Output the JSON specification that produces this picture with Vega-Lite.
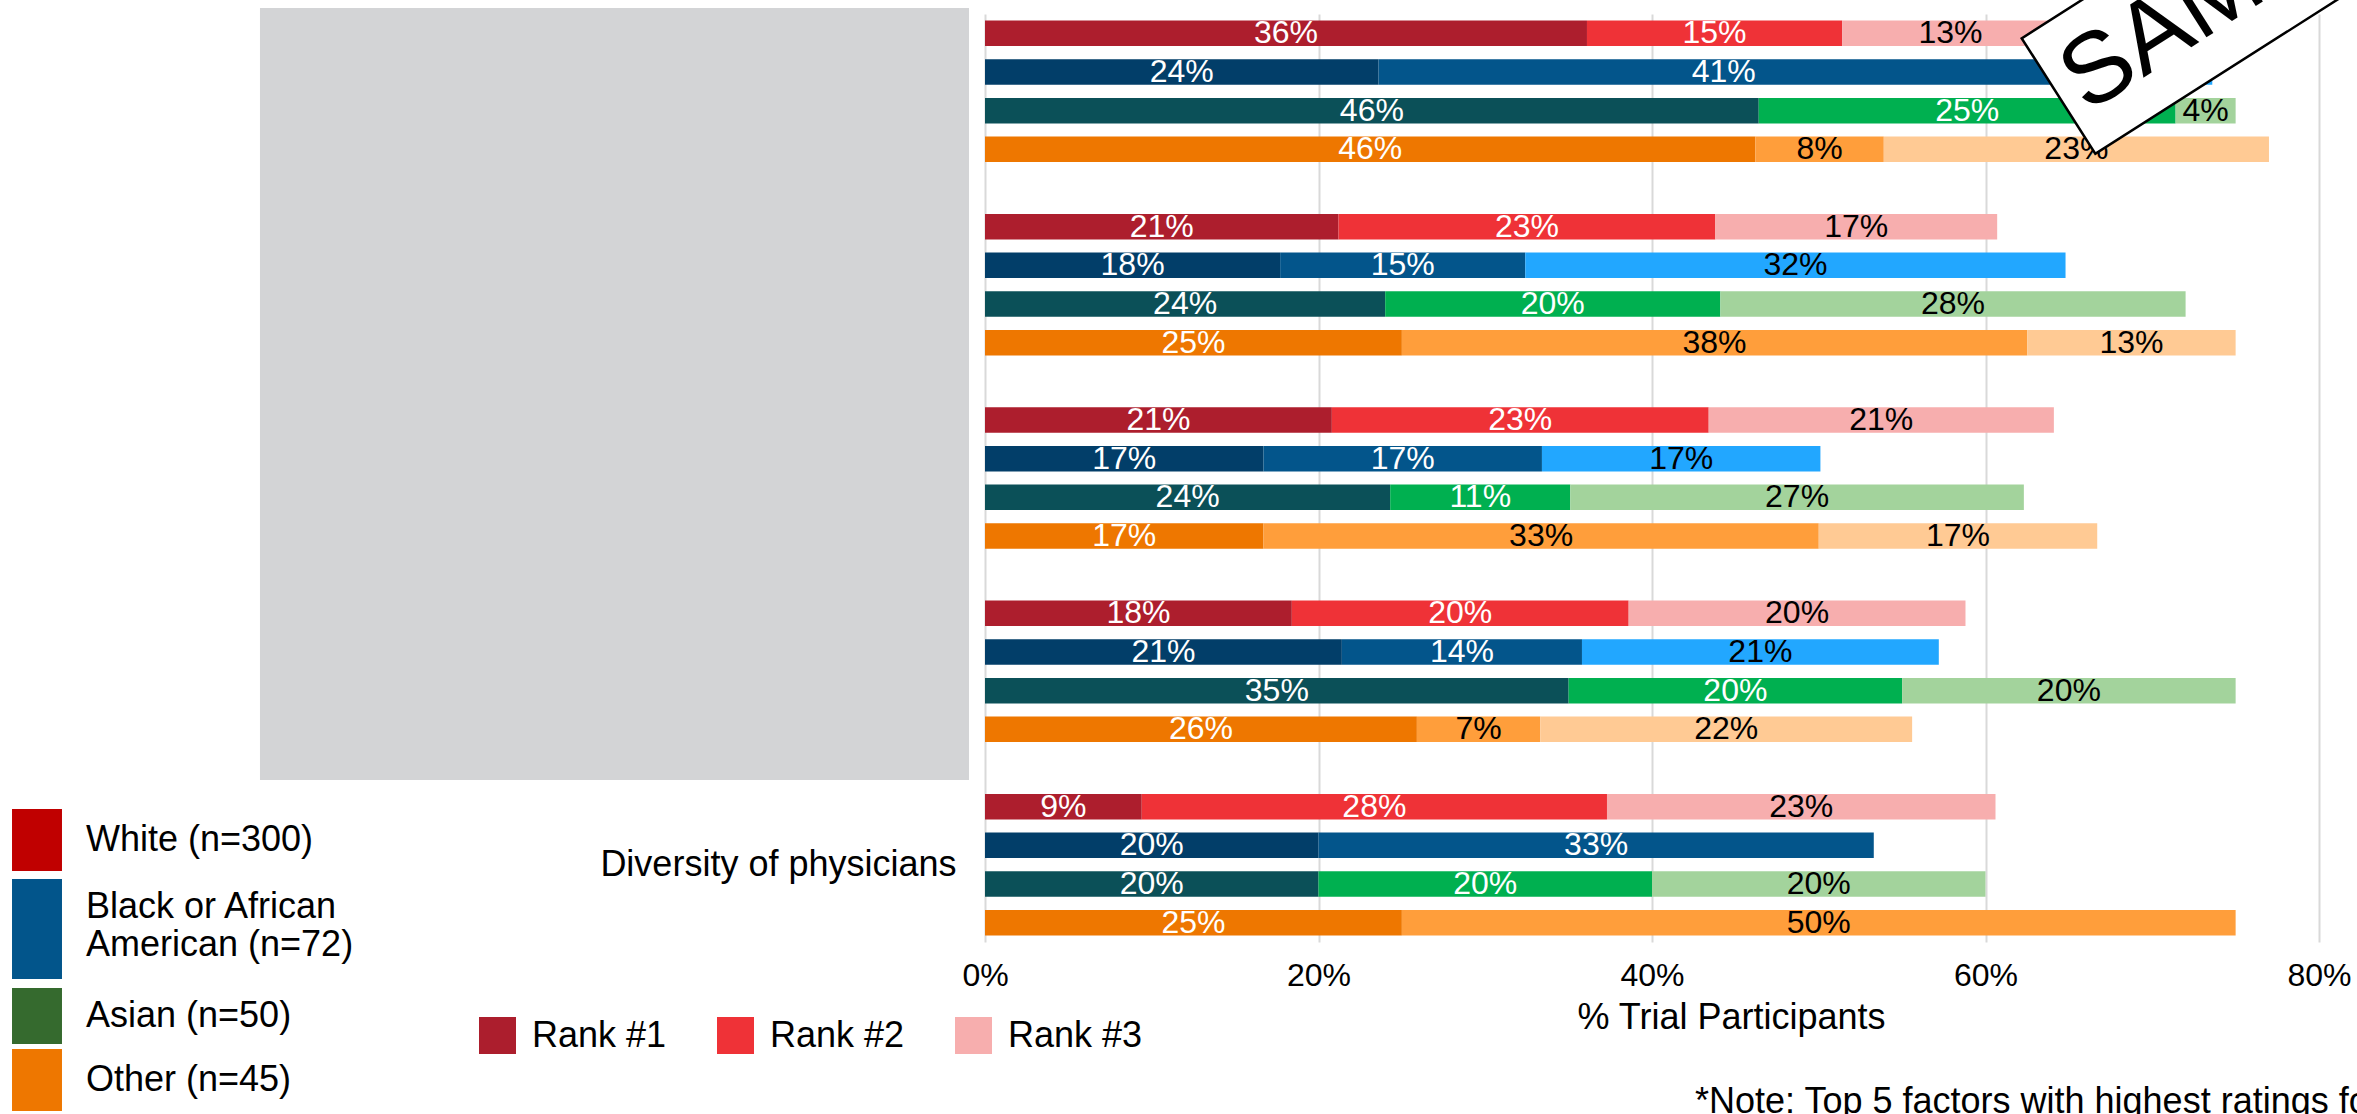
{
  "$schema": "https://vega.github.io/schema/vega-lite/v6.json",
  "autosize": {"type": "none"},
  "padding": {"left": 985, "top": 14, "right": 38, "bottom": 172},
  "width": 1334,
  "height": 928,
  "background": "white",
  "config": {"font": "Liberation Sans", "view": {"stroke": null}},
  "layer": [
    {
      "data": {"values": [
        {"factor": "Factor 1", "race": "White (n=300)", "rank": "Rank #1", "pct": 36.1},
        {"factor": "Factor 1", "race": "White (n=300)", "rank": "Rank #2", "pct": 15.3},
        {"factor": "Factor 1", "race": "White (n=300)", "rank": "Rank #3", "pct": 13},
        {"factor": "Factor 1", "race": "Black or African American (n=72)", "rank": "Rank #1", "pct": 23.6},
        {"factor": "Factor 1", "race": "Black or African American (n=72)", "rank": "Rank #2", "pct": 41.4},
        {"factor": "Factor 1", "race": "Black or African American (n=72)", "rank": "Rank #3", "pct": 8.6},
        {"factor": "Factor 1", "race": "Asian (n=50)", "rank": "Rank #1", "pct": 46.4},
        {"factor": "Factor 1", "race": "Asian (n=50)", "rank": "Rank #2", "pct": 25.0},
        {"factor": "Factor 1", "race": "Asian (n=50)", "rank": "Rank #3", "pct": 3.6},
        {"factor": "Factor 1", "race": "Other (n=45)", "rank": "Rank #1", "pct": 46.2},
        {"factor": "Factor 1", "race": "Other (n=45)", "rank": "Rank #2", "pct": 7.7},
        {"factor": "Factor 1", "race": "Other (n=45)", "rank": "Rank #3", "pct": 23.1},
        {"factor": "Factor 2", "race": "White (n=300)", "rank": "Rank #1", "pct": 21.2},
        {"factor": "Factor 2", "race": "White (n=300)", "rank": "Rank #2", "pct": 22.6},
        {"factor": "Factor 2", "race": "White (n=300)", "rank": "Rank #3", "pct": 16.9},
        {"factor": "Factor 2", "race": "Black or African American (n=72)", "rank": "Rank #1", "pct": 17.7},
        {"factor": "Factor 2", "race": "Black or African American (n=72)", "rank": "Rank #2", "pct": 14.7},
        {"factor": "Factor 2", "race": "Black or African American (n=72)", "rank": "Rank #3", "pct": 32.4},
        {"factor": "Factor 2", "race": "Asian (n=50)", "rank": "Rank #1", "pct": 24.0},
        {"factor": "Factor 2", "race": "Asian (n=50)", "rank": "Rank #2", "pct": 20.1},
        {"factor": "Factor 2", "race": "Asian (n=50)", "rank": "Rank #3", "pct": 27.9},
        {"factor": "Factor 2", "race": "Other (n=45)", "rank": "Rank #1", "pct": 25.0},
        {"factor": "Factor 2", "race": "Other (n=45)", "rank": "Rank #2", "pct": 37.5},
        {"factor": "Factor 2", "race": "Other (n=45)", "rank": "Rank #3", "pct": 12.5},
        {"factor": "Factor 3", "race": "White (n=300)", "rank": "Rank #1", "pct": 20.8},
        {"factor": "Factor 3", "race": "White (n=300)", "rank": "Rank #2", "pct": 22.6},
        {"factor": "Factor 3", "race": "White (n=300)", "rank": "Rank #3", "pct": 20.7},
        {"factor": "Factor 3", "race": "Black or African American (n=72)", "rank": "Rank #1", "pct": 16.7},
        {"factor": "Factor 3", "race": "Black or African American (n=72)", "rank": "Rank #2", "pct": 16.7},
        {"factor": "Factor 3", "race": "Black or African American (n=72)", "rank": "Rank #3", "pct": 16.7},
        {"factor": "Factor 3", "race": "Asian (n=50)", "rank": "Rank #1", "pct": 24.3},
        {"factor": "Factor 3", "race": "Asian (n=50)", "rank": "Rank #2", "pct": 10.8},
        {"factor": "Factor 3", "race": "Asian (n=50)", "rank": "Rank #3", "pct": 27.2},
        {"factor": "Factor 3", "race": "Other (n=45)", "rank": "Rank #1", "pct": 16.7},
        {"factor": "Factor 3", "race": "Other (n=45)", "rank": "Rank #2", "pct": 33.3},
        {"factor": "Factor 3", "race": "Other (n=45)", "rank": "Rank #3", "pct": 16.7},
        {"factor": "Factor 4", "race": "White (n=300)", "rank": "Rank #1", "pct": 18.4},
        {"factor": "Factor 4", "race": "White (n=300)", "rank": "Rank #2", "pct": 20.2},
        {"factor": "Factor 4", "race": "White (n=300)", "rank": "Rank #3", "pct": 20.2},
        {"factor": "Factor 4", "race": "Black or African American (n=72)", "rank": "Rank #1", "pct": 21.4},
        {"factor": "Factor 4", "race": "Black or African American (n=72)", "rank": "Rank #2", "pct": 14.4},
        {"factor": "Factor 4", "race": "Black or African American (n=72)", "rank": "Rank #3", "pct": 21.4},
        {"factor": "Factor 4", "race": "Asian (n=50)", "rank": "Rank #1", "pct": 35.0},
        {"factor": "Factor 4", "race": "Asian (n=50)", "rank": "Rank #2", "pct": 20.0},
        {"factor": "Factor 4", "race": "Asian (n=50)", "rank": "Rank #3", "pct": 20.0},
        {"factor": "Factor 4", "race": "Other (n=45)", "rank": "Rank #1", "pct": 25.9},
        {"factor": "Factor 4", "race": "Other (n=45)", "rank": "Rank #2", "pct": 7.4},
        {"factor": "Factor 4", "race": "Other (n=45)", "rank": "Rank #3", "pct": 22.3},
        {"factor": "Diversity of physicians", "race": "White (n=300)", "rank": "Rank #1", "pct": 9.4},
        {"factor": "Diversity of physicians", "race": "White (n=300)", "rank": "Rank #2", "pct": 27.9},
        {"factor": "Diversity of physicians", "race": "White (n=300)", "rank": "Rank #3", "pct": 23.3},
        {"factor": "Diversity of physicians", "race": "Black or African American (n=72)", "rank": "Rank #1", "pct": 20.0},
        {"factor": "Diversity of physicians", "race": "Black or African American (n=72)", "rank": "Rank #2", "pct": 33.3},
        {"factor": "Diversity of physicians", "race": "Asian (n=50)", "rank": "Rank #1", "pct": 20.0},
        {"factor": "Diversity of physicians", "race": "Asian (n=50)", "rank": "Rank #2", "pct": 20.0},
        {"factor": "Diversity of physicians", "race": "Asian (n=50)", "rank": "Rank #3", "pct": 20.0},
        {"factor": "Diversity of physicians", "race": "Other (n=45)", "rank": "Rank #1", "pct": 25.0},
        {"factor": "Diversity of physicians", "race": "Other (n=45)", "rank": "Rank #2", "pct": 50.0}
      ]},
      "transform": [
        {"stack": "pct", "groupby": ["factor", "race"], "sort": [{"field": "rank", "order": "ascending"}], "as": ["x0", "x1"]},
        {"calculate": "(datum.x0 + datum.x1) / 2", "as": "mid"},
        {"calculate": "datum.race + ' ' + datum.rank", "as": "key"}
      ],
      "encoding": {
        "y": {
          "field": "factor", "type": "nominal",
          "scale": {"domain": ["Factor 1", "Factor 2", "Factor 3", "Factor 4", "Diversity of physicians"], "paddingInner": 0.2, "paddingOuter": 0},
          "axis": {"title": null, "ticks": false, "domain": false, "grid": false, "labelFontSize": 36, "labelColor": "#000000", "labelPadding": 29, "labelLimit": 0, "labelExpr": "datum.value == 'Diversity of physicians' ? datum.value : ''"}
        },
        "yOffset": {
          "field": "race", "type": "nominal",
          "scale": {"domain": ["White (n=300)", "Black or African American (n=72)", "Asian (n=50)", "Other (n=45)"], "paddingInner": 0.34, "paddingOuter": 0.17}
        }
      },
      "layer": [
        {
          "transform": [{"filter": "datum.pct < 0"}],
          "mark": {"type": "bar"},
          "encoding": {
            "x": {"field": "x0", "type": "quantitative", "scale": {"domain": [0, 80], "nice": false, "zero": false}},
            "x2": {"field": "x1"},
            "color": {
              "field": "rank", "type": "nominal",
              "scale": {"domain": ["Rank #1", "Rank #2", "Rank #3"], "range": ["#ac1e2d", "#ef3237", "#f7aeae"]},
              "legend": {"orient": "none", "legendX": -506, "legendY": 1003, "direction": "horizontal", "columns": 3, "title": null, "symbolType": "square", "symbolSize": 1369, "symbolStrokeWidth": 0, "labelFontSize": 36, "labelColor": "#000000", "labelOffset": 16, "columnPadding": 50, "labelLimit": 0}
            }
          }
        },
        {
          "transform": [{"filter": "datum.pct < 0"}],
          "mark": {"type": "point", "filled": true, "strokeWidth": 0, "opacity": 1},
          "encoding": {
            "x": {"field": "x0", "type": "quantitative", "scale": {"domain": [0, 80], "nice": false, "zero": false}},
            "fill": {
              "field": "race", "type": "nominal",
              "scale": {"domain": ["White (n=300)", "Black or African American (n=72)", "Asian (n=50)", "Other (n=45)"], "range": ["#c00000", "#02558b", "#356a2e", "#ee7700"]},
              "legend": {"orient": "none", "legendX": -979, "legendY": 795, "direction": "vertical", "columns": 1, "title": null, "symbolSize": 3844, "symbolStrokeWidth": 0, "symbolOpacity": 1, "labelFontSize": 36, "labelColor": "#000000", "labelOffset": 18, "rowPadding": 5, "labelLimit": 0, "labelExpr": "datum.label == 'Black or African American (n=72)' ? ['Black or African', 'American (n=72)'] : datum.label"}
            },
            "shape": {
              "field": "race", "type": "nominal",
              "scale": {"domain": ["White (n=300)", "Black or African American (n=72)", "Asian (n=50)", "Other (n=45)"], "range": ["M-0.806,-1L0.806,-1L0.806,1L-0.806,1Z", "M-0.806,-0.903L0.806,-0.903L0.806,2.323L-0.806,2.323Z", "M-0.806,-0.903L0.806,-0.903L0.806,0.903L-0.806,0.903Z", "M-0.806,-1L0.806,-1L0.806,1L-0.806,1Z"]},
              "legend": {"orient": "none", "legendX": -979, "legendY": 795, "direction": "vertical", "columns": 1, "title": null, "symbolSize": 3844, "symbolStrokeWidth": 0, "symbolOpacity": 1, "labelFontSize": 36, "labelColor": "#000000", "labelOffset": 18, "rowPadding": 5, "labelLimit": 0, "labelExpr": "datum.label == 'Black or African American (n=72)' ? ['Black or African', 'American (n=72)'] : datum.label"}
            }
          }
        },
        {
          "mark": {"type": "bar"},
          "encoding": {
            "x": {
              "field": "x0", "type": "quantitative",
              "scale": {"domain": [0, 80], "nice": false, "zero": false},
              "axis": {"values": [0, 20, 40, 60, 80], "labelExpr": "datum.value + '%'", "ticks": false, "domain": false, "grid": true, "gridColor": "#d9d9d9", "gridWidth": 2, "labelFontSize": 32, "labelColor": "#000000", "labelPadding": 18, "labelFlush": false, "title": "% Trial Participants", "titleFontSize": 36, "titleFontWeight": "normal", "titleColor": "#000000", "titleX": 746, "titleY": 75, "titleBaseline": "middle", "titleAlign": "center"}
            },
            "x2": {"field": "x1"},
            "color": {
              "field": "key", "type": "nominal", "legend": null,
              "scale": {
                "domain": ["White (n=300) Rank #1", "White (n=300) Rank #2", "White (n=300) Rank #3", "Black or African American (n=72) Rank #1", "Black or African American (n=72) Rank #2", "Black or African American (n=72) Rank #3", "Asian (n=50) Rank #1", "Asian (n=50) Rank #2", "Asian (n=50) Rank #3", "Other (n=45) Rank #1", "Other (n=45) Rank #2", "Other (n=45) Rank #3"],
                "range": ["#ad1e2d", "#ef3237", "#f7aeae", "#023e69", "#03558b", "#22a7ff", "#0b5058", "#00b050", "#a3d39c", "#ee7700", "#ff9e3b", "#ffca94"]
              }
            }
          }
        },
        {
          "mark": {"type": "text", "fontSize": 32, "align": "center", "baseline": "middle"},
          "encoding": {
            "x": {"field": "mid", "type": "quantitative", "scale": {"domain": [0, 80], "nice": false, "zero": false}},
            "text": {"value": {"expr": "format(datum.pct, '.0f') + '%'"}},
            "color": {
              "condition": {"test": "datum.rank == 'Rank #1' || (datum.rank == 'Rank #2' && datum.race != 'Other (n=45)')", "value": "#ffffff"},
              "value": "#000000"
            }
          }
        }
      ],
      "resolve": {"scale": {"color": "independent"}, "legend": {"color": "independent"}}
    },
    {
      "data": {"values": [{"overlay": "annotations"}]},
      "layer": [
        {
          "mark": {"type": "rect", "color": "#d3d4d6"},
          "encoding": {
            "x": {"datum": -43.48, "type": "quantitative", "scale": {"domain": [0, 80], "nice": false, "zero": false}},
            "x2": {"datum": -0.96},
            "y": {"datum": 1.0065, "type": "quantitative", "scale": {"domain": [0, 1], "nice": false, "zero": false}, "axis": null},
            "y2": {"datum": 0.1746}
          }
        },
        {
          "mark": {"type": "point", "shape": "M-1,-0.315L1,-0.315L1,0.315L-1,0.315Z", "size": 189225, "angle": 327.5, "filled": true, "fill": "#ffffff", "stroke": "#000000", "strokeWidth": 2.5, "opacity": 1},
          "encoding": {
            "x": {"datum": 75.38, "type": "quantitative", "scale": {"domain": [0, 80], "nice": false, "zero": false}},
            "y": {"datum": 1.0375, "type": "quantitative", "scale": {"domain": [0, 1], "nice": false, "zero": false}, "axis": null}
          }
        },
        {
          "mark": {"type": "text", "text": "SAMPLE", "fontSize": 100, "angle": 327.5, "align": "center", "baseline": "middle", "color": "#000000"},
          "encoding": {
            "x": {"datum": 75.38, "type": "quantitative", "scale": {"domain": [0, 80], "nice": false, "zero": false}},
            "y": {"datum": 1.0375, "type": "quantitative", "scale": {"domain": [0, 1], "nice": false, "zero": false}, "axis": null}
          }
        },
        {
          "mark": {"type": "text", "text": "*Note: Top 5 factors with highest ratings for each group", "fontSize": 36, "align": "left", "baseline": "middle", "color": "#000000"},
          "encoding": {
            "x": {"datum": 42.58, "type": "quantitative", "scale": {"domain": [0, 80], "nice": false, "zero": false}},
            "y": {"datum": -0.1724, "type": "quantitative", "scale": {"domain": [0, 1], "nice": false, "zero": false}, "axis": null}
          }
        }
      ]
    }
  ],
  "resolve": {"scale": {"y": "independent"}, "axis": {"y": "independent"}}
}
